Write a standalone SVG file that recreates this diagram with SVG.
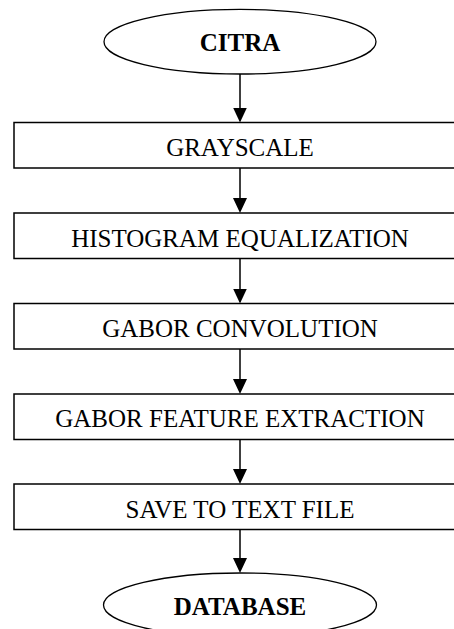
<svg xmlns="http://www.w3.org/2000/svg" width="454" height="629" viewBox="0 0 454 629">
<defs>
<style>
.box{fill:#fff;stroke:#000;stroke-width:1.5}
.term{fill:#fff;stroke:#000;stroke-width:1.3}
.lbl{font-family:"Liberation Serif","Times New Roman",serif;font-size:25px;text-anchor:middle;fill:#000}
.bold{font-weight:bold}
.edge{stroke:#000;stroke-width:1.5;fill:none;marker-end:url(#ah)}
</style>
<marker id="ah" markerWidth="15" markerHeight="14" refX="13" refY="7" orient="auto" markerUnits="userSpaceOnUse" viewBox="0 0 15 14">
<path d="M0,0 L15,7 L0,14 Z" fill="#000"/>
</marker>
</defs>
<rect width="454" height="629" fill="#fff"/>
<g id="connectors">
<line class="edge" x1="240" y1="74" x2="240" y2="120.5"/>
<line class="edge" x1="240" y1="168" x2="240" y2="211"/>
<line class="edge" x1="240" y1="258.5" x2="240" y2="301.5"/>
<line class="edge" x1="240" y1="349" x2="240" y2="392"/>
<line class="edge" x1="240" y1="439.5" x2="240" y2="482"/>
<line class="edge" x1="240" y1="529.5" x2="240" y2="571"/>
</g>
<g id="citra">
<ellipse class="term" cx="240" cy="41.7" rx="136" ry="32.3"/>
<text class="lbl bold" x="240" y="51">CITRA</text>
</g>
<g id="grayscale">
<rect class="box" x="14" y="122.5" width="452" height="45.5"/>
<text class="lbl" x="240" y="156">GRAYSCALE</text>
</g>
<g id="histogram">
<rect class="box" x="14" y="213" width="452" height="45.5"/>
<text class="lbl" x="240" y="246.5">HISTOGRAM EQUALIZATION</text>
</g>
<g id="convolution">
<rect class="box" x="14" y="303.5" width="452" height="45.5"/>
<text class="lbl" x="240" y="337">GABOR CONVOLUTION</text>
</g>
<g id="feature">
<rect class="box" x="14" y="394" width="452" height="45.5"/>
<text class="lbl" x="240" y="427">GABOR FEATURE EXTRACTION</text>
</g>
<g id="save">
<rect class="box" x="14" y="484" width="452" height="45.5"/>
<text class="lbl" x="240" y="517.5">SAVE TO TEXT FILE</text>
</g>
<g id="database">
<ellipse class="term" cx="240" cy="605" rx="136.5" ry="32"/>
<text class="lbl bold" x="240" y="615">DATABASE</text>
</g>
</svg>
